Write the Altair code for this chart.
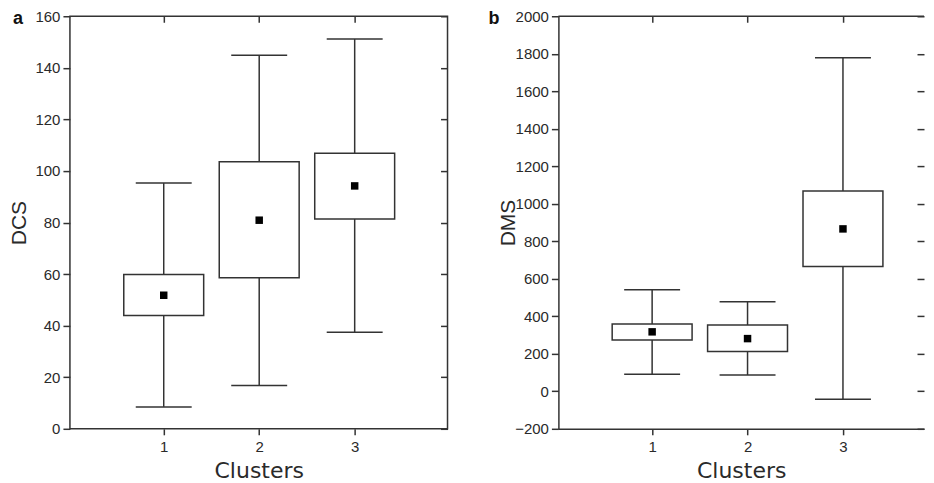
import altair as alt
import pandas as pd

# ---- data ----
clusters = [1, 2, 3]

dcs_low = [8.5, 16.8, 37.4]
dcs_q1 = [43.9, 58.6, 81.4]
dcs_mean = [51.8, 80.9, 94.2]
dcs_q3 = [59.8, 103.6, 106.9]
dcs_high = [95.3, 144.9, 151.2]
dcs_ticks = [0, 20, 40, 60, 80, 100, 120, 140, 160]

dms_low = [91, 87, -42]
dms_q1 = [274, 212, 665]
dms_mean = [317, 281, 866]
dms_q3 = [359, 353, 1068]
dms_high = [542, 477, 1779]
dms_ticks = [-200, 0, 200, 400, 600, 800, 1000, 1200, 1400, 1600, 1800, 2000]

# ---- styling ----
H = 413
LINE = "#333333"
TXT = "#2a2a2a"
TICK_FONT = "Liberation Sans, Arial, sans-serif"


def panel(low, q1, mean, q3, high, ydomain, yticks, ytitle, letter, letter_x,
          width, xdomain, framed):
    df = pd.DataFrame({"cluster": clusters, "low": low, "q1": q1,
                       "mean": mean, "q3": q3, "high": high})
    base = alt.Chart(df)
    xs = alt.Scale(domain=xdomain, nice=False, zero=False)
    ys = alt.Scale(domain=ydomain, nice=False, zero=False)
    show_domain = not framed

    ax_bottom = alt.Axis(orient="bottom", values=clusters, format="d",
                         domain=show_domain, domainColor=LINE, domainWidth=1.5,
                         grid=False, tickSize=6, tickColor=LINE, tickWidth=1.5,
                         labelPadding=5, labelFontSize=15, labelFont=TICK_FONT,
                         labelColor=TXT, labelFlush=False,
                         title="Clusters", titleFont="DejaVu Sans", titleFontSize=22,
                         titleFontWeight="normal", titleColor=TXT,
                         titleX=width / 2, titleY=49, titleBaseline="alphabetic",
                         titleAlign="center")
    ax_top = alt.Axis(orient="top", values=clusters, labels=False, domain=False,
                      grid=False, tickSize=6, tickColor=LINE, tickWidth=1.5,
                      offset=-6, title=None)
    ax_left = alt.Axis(orient="left", values=yticks, format="d",
                       domain=show_domain, domainColor=LINE, domainWidth=1.5,
                       grid=False, tickSize=7, tickColor=LINE, tickWidth=1.5,
                       labelPadding=3, labelFontSize=15, labelFont=TICK_FONT,
                       labelColor=TXT, labelFlush=False, labelOverlap=False,
                       title=ytitle, titleFont="Liberation Sans, Arial, sans-serif",
                       titleFontSize=21, titleFontWeight="normal", titleColor=TXT,
                       titleX=-44, titleY=H / 2, titleAngle=270,
                       titleBaseline="alphabetic", titleAlign="center")
    ax_right = alt.Axis(orient="right", values=yticks, labels=False, domain=False,
                        grid=False, tickSize=7, tickColor=LINE, tickWidth=1.5,
                        offset=-7, title=None)

    whisker = base.mark_rule(color=LINE, strokeWidth=1.5).encode(
        x=alt.X("cluster:Q", scale=xs, axis=ax_bottom),
        y=alt.Y("low:Q", scale=ys, axis=ax_left),
        y2="high:Q",
    )
    box = base.mark_bar(size=80, fill="white", stroke=LINE, strokeWidth=1.5,
                        opacity=1).encode(
        x=alt.X("cluster:Q", scale=xs, axis=None),
        y=alt.Y("q1:Q", scale=ys, axis=None),
        y2="q3:Q",
    )
    cap_low = base.mark_tick(orient="horizontal", size=56, thickness=1.5,
                             color=LINE, opacity=1).encode(
        x=alt.X("cluster:Q", scale=xs, axis=ax_top),
        y=alt.Y("low:Q", scale=ys, axis=ax_right),
    )
    cap_high = base.mark_tick(orient="horizontal", size=56, thickness=1.5,
                              color=LINE, opacity=1).encode(
        x=alt.X("cluster:Q", scale=xs, axis=None),
        y=alt.Y("high:Q", scale=ys, axis=None),
    )
    means = base.mark_square(size=56, color="black", opacity=1).encode(
        x=alt.X("cluster:Q", scale=xs, axis=None),
        y=alt.Y("mean:Q", scale=ys, axis=None),
    )
    label = alt.Chart(pd.DataFrame({"t": [letter]})).mark_text(
        font="Liberation Sans Narrow, Liberation Sans, sans-serif",
        fontWeight="bold", fontSize=18, align="left", baseline="alphabetic",
        color="#111111",
    ).encode(text="t:N", x=alt.value(letter_x), y=alt.value(8))

    layers = [whisker, box, cap_low, cap_high, means, label]
    props = {"width": width, "height": H}
    if not framed:
        top_line = alt.Chart(pd.DataFrame({"v": [ydomain[1]]})).mark_rule(
            color=LINE, strokeWidth=1.5
        ).encode(y=alt.Y("v:Q", scale=ys, axis=None), x=alt.value(0),
                 x2=alt.value(width))
        layers.append(top_line)
        props["view"] = alt.ViewBackground(stroke="transparent")

    return alt.layer(*layers).resolve_axis(
        x="independent", y="independent"
    ).properties(**props)


pa = panel(dcs_low, dcs_q1, dcs_mean, dcs_q3, dcs_high, [0, 160], dcs_ticks,
           "DCS", "a", -57, 378, [0.07, 3.92], True)
pb = panel(dms_low, dms_q1, dms_mean, dms_q3, dms_high, [-200, 2000], dms_ticks,
           "DMS", "b", -70, 366, [0.07, 3.797], False)

chart = alt.hconcat(pa, pb, spacing=111, bounds="flush").properties(
    padding=0, background="white"
).configure_view(stroke=LINE, strokeWidth=1.5)

chart.save("out.html", embed_options={"renderer": "svg", "actions": False})
